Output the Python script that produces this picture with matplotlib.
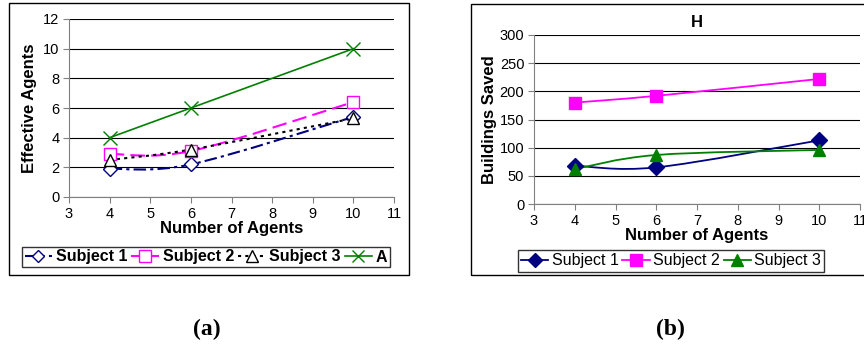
import numpy as np
import matplotlib.pyplot as plt
from matplotlib.path import Path
from matplotlib.patches import PathPatch, Rectangle
from matplotlib.lines import Line2D

plt.rcParams['font.family'] = ['Liberation Sans', 'DejaVu Sans']

agents = [4, 6, 10]

# (a) effective agents
eff_s1 = [1.9, 2.2, 5.4]
eff_s2 = [2.9, 3.1, 6.4]
eff_s3 = [2.5, 3.2, 5.3]
eff_a = [4, 6, 10]

# (b) buildings saved
bld_s1 = [68, 65, 113]
bld_s2 = [180, 192, 222]
bld_s3 = [62, 87, 96]

NAVY = '#000080'
MAG = '#FF00FF'
GREEN = '#008000'


def smooth_line(ax, x, y, **kw):
    # excel style smoothed line through the points (catmull-rom bezier)
    p = np.column_stack([x, y]).astype(float)
    n = len(p)
    verts = [p[0]]
    codes = [Path.MOVETO]
    for i in range(n - 1):
        prev = p[max(i - 1, 0)]
        nxt = p[min(i + 2, n - 1)]
        c1 = p[i] + (p[i + 1] - prev) / 6
        c2 = p[i + 1] - (nxt - p[i]) / 6
        verts += [c1, c2, p[i + 1]]
        codes += [Path.CURVE4] * 3
    patch = PathPatch(Path(verts, codes), fill=False, **kw)
    ax.add_patch(patch)


def style_axes(ax, ylim, yticks):
    ax.set_xlim(3, 11)
    ax.set_ylim(*ylim)
    ax.set_xticks(range(3, 12))
    ax.set_yticks(yticks)
    ax.yaxis.grid(True, color='black', lw=0.8)
    ax.set_axisbelow(True)
    for s in ['top', 'right']:
        ax.spines[s].set_visible(False)
    for s in ['left', 'bottom']:
        ax.spines[s].set_color('#808080')
    ax.tick_params(direction='out', length=4, color='#808080', labelsize=10.5, pad=3)
    ax.set_xlabel('Number of Agents', fontsize=12, fontweight='bold', labelpad=0)


fig = plt.figure(figsize=(8.64, 3.47), dpi=100)

# panel frames
fig.patches.append(Rectangle((9 / 864, 72 / 347), 400 / 864, 272 / 347, transform=fig.transFigure,
                             fill=False, ec='black', lw=1.0))
fig.patches.append(Rectangle((471 / 864, 72 / 347), 400 / 864, 271 / 347, transform=fig.transFigure,
                             fill=False, ec='black', lw=1.0))

# ---- (a)
ax1 = fig.add_axes([69 / 864, 150 / 347, 325 / 864, 178 / 347])
style_axes(ax1, (0, 12), range(0, 13, 2))
ax1.set_ylabel('Effective Agents', fontsize=12, fontweight='bold', labelpad=4)

series_a = [
    (eff_s1, NAVY, (0, (6, 2, 1.5, 2)), 'D', 'Subject 1', 7),
    (eff_s2, MAG, (0, (7, 3)), 's', 'Subject 2', 9),
    (eff_s3, 'black', (0, (1.5, 2)), '^', 'Subject 3', 9),
]
handles = []
for vals, col, ls, mk, name, ms in series_a:
    smooth_line(ax1, agents, vals, ec=col, lw=1.5, linestyle=ls)
    ax1.plot(agents, vals, ls='none', marker=mk, ms=ms, mfc='white', mec=col, mew=1.0)
    handles.append(Line2D([], [], color=col, lw=1.5, ls=ls, marker=mk, ms=ms - 1,
                          mfc='white', mec=col, label=name))
ax1.plot(agents, eff_a, color=GREEN, lw=1.2, marker='x', ms=10, mew=1.0)
handles.append(Line2D([], [], color=GREEN, lw=1.2, marker='x', ms=9, label='A'))

fig.legend(handles=handles, loc='center', bbox_to_anchor=(206 / 864, 90 / 347), ncol=4,
           frameon=True, fancybox=False, edgecolor='black', handlelength=1.7,
           handletextpad=0.25, columnspacing=0.25, borderpad=0.15,
           prop={'size': 11.5, 'weight': 'bold'})

# ---- (b)
ax2 = fig.add_axes([534 / 864, 143 / 347, 326 / 864, 169 / 347])
style_axes(ax2, (0, 300), range(0, 301, 50))
ax2.set_ylabel('Buildings Saved', fontsize=12, fontweight='bold', labelpad=2)
ax2.set_title('H', fontsize=12, fontweight='bold', pad=6)

series_b = [
    (bld_s1, NAVY, 'D', 'Subject 1', 8),
    (bld_s2, MAG, 's', 'Subject 2', 9),
    (bld_s3, GREEN, '^', 'Subject 3', 9),
]
handles = []
for vals, col, mk, name, ms in series_b:
    smooth_line(ax2, agents, vals, ec=col, lw=1.3)
    ax2.plot(agents, vals, ls='none', marker=mk, ms=ms, color=col)
    handles.append(Line2D([], [], color=col, lw=1.3, marker=mk, ms=ms - 1, label=name))

fig.legend(handles=handles, loc='center', bbox_to_anchor=(671 / 864, 86 / 347), ncol=3,
           frameon=True, fancybox=False, edgecolor='black', handlelength=1.7,
           handletextpad=0.2, columnspacing=0.25, borderpad=0.2, prop={'size': 11.5})

# captions
fig.text(207 / 864, 1 - 329 / 347, '(a)', ha='center', va='center', fontsize=17,
         fontweight='bold', family='Liberation Serif')
fig.text(670 / 864, 1 - 329 / 347, '(b)', ha='center', va='center', fontsize=17,
         fontweight='bold', family='Liberation Serif')

fig.savefig('out.png', dpi=100)
